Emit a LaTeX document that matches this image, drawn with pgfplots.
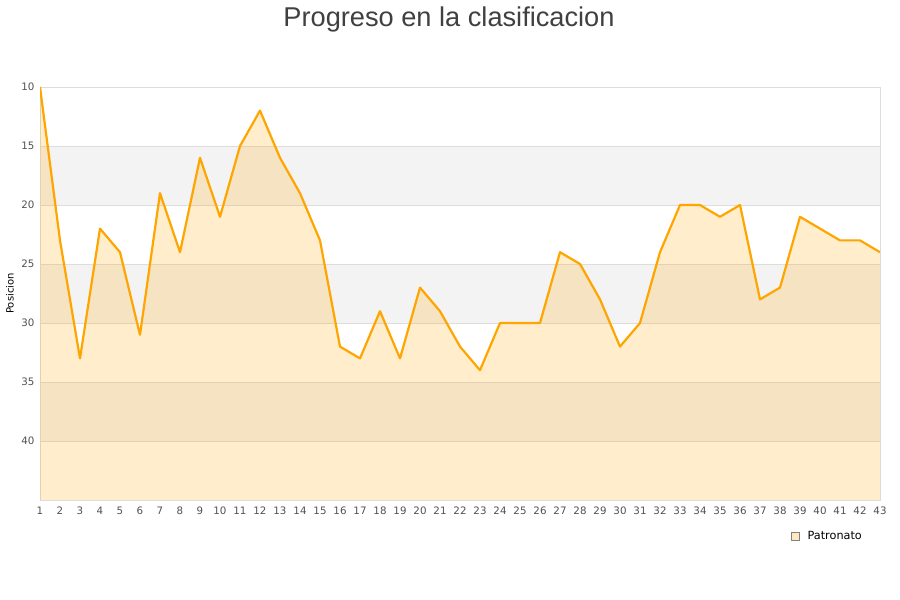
\documentclass[border=0pt]{standalone}
\usepackage{fontspec}
\setmainfont{DejaVu Sans}
\newfontfamily\titlefont{Liberation Sans}
\usepackage{pgfplots}
\pgfplotsset{compat=1.18}
\usepgfplotslibrary{fillbetween}

\definecolor{lineorange}{RGB}{255,165,0}
\definecolor{bandgrey}{RGB}{243,243,243}
\definecolor{gridgrey}{RGB}{221,221,221}
\definecolor{ticktext}{RGB}{80,80,80}

\begin{document}
\begin{tikzpicture}
\begin{axis}[
    set layers,
    scale only axis,
    width=840bp, height=413bp,
    xmin=1, xmax=43,
    ymin=10, ymax=45,
    y dir=reverse,
    xtick={1,2,...,43},
    ytick={10,15,20,25,30,35,40},
    major tick length=0pt,
    ymajorgrids=true,
    grid style={gridgrey, line width=0.8bp},
    axis line style={draw=gridgrey, line width=0.8bp},
    tick label style={font=\fontsize{10.3}{12}\selectfont, text=ticktext},
    /pgf/number format/assume math mode=true,
    xticklabel style={yshift=-3bp},
    yticklabel style={xshift=-2bp},
    ylabel={Posicion},
    ylabel style={font=\fontsize{9}{11}\selectfont, text=ticktext},
    every axis y label/.style={at={(axis description cs:-0.0357,0.5)}, rotate=90, anchor=center},
    legend style={at={(axis description cs:1,0)}, anchor=north east,
        xshift=-13bp, yshift=-27bp, draw=none, fill=none,
        font=\fontsize{11.3}{13}\selectfont},
    legend cell align=left,
]

% alternating bands
\addplot[on layer=axis background, fill=bandgrey, draw=none, forget plot]
    coordinates {(1,15)(43,15)(43,20)(1,20)} -- cycle;
\addplot[on layer=axis background, fill=bandgrey, draw=none, forget plot]
    coordinates {(1,25)(43,25)(43,30)(1,30)} -- cycle;
\addplot[on layer=axis background, fill=bandgrey, draw=none, forget plot]
    coordinates {(1,35)(43,35)(43,40)(1,40)} -- cycle;

\addplot[draw=none, name path=base, forget plot]
    coordinates {(1,45)(43,45)};

\addplot[
    color=lineorange,
    line width=2.2bp,
    line join=round,
    name path=pos,
    legend image code/.code={
        \path[draw=none, fill=none] (0bp,0bp) -- (14bp,0bp);
        \draw[fill=lineorange!25, draw=gray, line width=0.5bp] (0bp,-4bp) rectangle (8bp,4bp);
    },
    ]
    coordinates {
    (1,10)(2,23)(3,33)(4,22)(5,24)(6,31)(7,19)(8,24)(9,16)(10,21)
    (11,15)(12,12)(13,16)(14,19)(15,23)(16,32)(17,33)(18,29)(19,33)(20,27)
    (21,29)(22,32)(23,34)(24,30)(25,30)(26,30)(27,24)(28,25)(29,28)(30,32)
    (31,30)(32,24)(33,20)(34,20)(35,21)(36,20)(37,28)(38,27)(39,21)(40,22)
    (41,23)(42,23)(43,24)
    };
\addlegendentry{Patronato}

\addplot[fill=lineorange, fill opacity=0.2, draw=none, forget plot]
    fill between[of=pos and base];

\end{axis}
\node[font=\titlefont\fontsize{27.3}{32}\selectfont, text={rgb,255:red,64;green,64;blue,64}]
    at ([yshift=68bp, xshift=-11bp]current axis.north) {Progreso en la clasificacion};
\path[use as bounding box]
    ([shift={(-40bp,-100bp)}]current axis.south west)
    rectangle ([shift={(20bp,87bp)}]current axis.north east);
\end{tikzpicture}
\end{document}
